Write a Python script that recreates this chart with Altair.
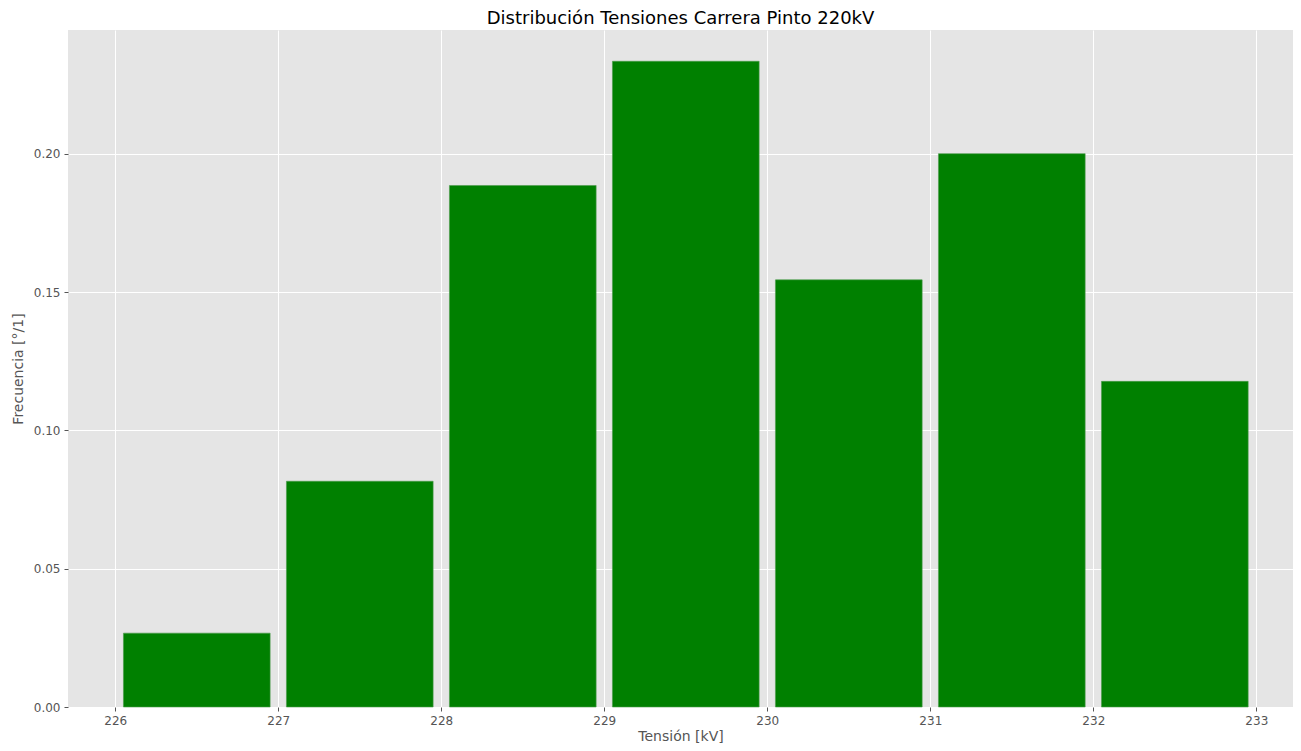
import altair as alt
import pandas as pd

bin_start = [226, 227, 228, 229, 230, 231, 232]
frecuencia = [0.0267, 0.0816, 0.1885, 0.2334, 0.1544, 0.2000, 0.1177]
x_ticks = [226, 227, 228, 229, 230, 231, 232, 233]
y_ticks = [0.0, 0.05, 0.10, 0.15, 0.20]

df = pd.DataFrame({"bin": bin_start, "freq": frecuencia})

FONT = "DejaVu Sans"

bars = (
    alt.Chart(df)
    .transform_calculate(b0="datum.bin + 0.05", b1="datum.bin + 0.95")
    .mark_bar(color="#008000", stroke="#4c9a4c", strokeWidth=0.6, opacity=1)
    .encode(
        x=alt.X(
            "b0:Q",
            scale=alt.Scale(domain=[225.71, 233.225], nice=False, zero=False),
            axis=alt.Axis(
                values=x_ticks,
                format="d",
                title="Tensión [kV]",
            ),
        ),
        x2="b1:Q",
        y=alt.Y(
            "freq:Q",
            scale=alt.Scale(domain=[0, 0.2447], nice=False),
            axis=alt.Axis(values=y_ticks, format=".2f", title="Frecuencia [°/1]"),
        ),
        y2=alt.datum(0),
    )
)

chart = (
    bars.properties(
        width=1225,
        height=677,
        title=alt.TitleParams(
            "Distribución Tensiones Carrera Pinto 220kV",
            font=FONT,
            fontSize=18,
            fontWeight="normal",
            color="#000000",
            anchor="middle",
            offset=2,
        ),
        autosize=alt.AutoSizeParams(type="none"),
        padding={"left": 60, "top": 22, "right": 0, "bottom": 36},
    )
    .configure_view(fill="#E5E5E5", stroke=None)
    .configure_axis(
        grid=True,
        gridColor="#FFFFFF",
        gridWidth=1,
        domain=False,
        tickColor="#555555",
        tickSize=4,
        tickWidth=1,
        labelColor="#555555",
        labelFont=FONT,
        labelFontSize=12,
        labelPadding=4,
        titleColor="#555555",
        titleFont=FONT,
        titleFontSize=14,
        titleFontWeight="normal",
    )
    .configure_axisX(titlePadding=3)
    .configure_axisY(titlePadding=8)
)

chart.save("out.html", embed_options={"renderer": "svg", "actions": False})
